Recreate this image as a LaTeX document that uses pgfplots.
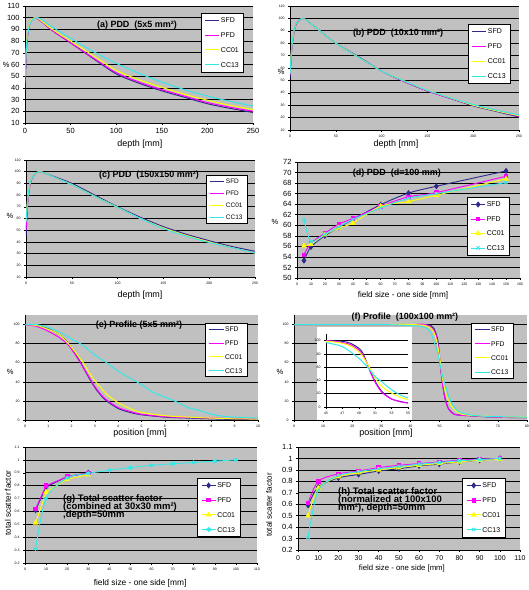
\documentclass[border=0pt]{standalone}
\usepackage{fontspec}
\setmainfont{Liberation Sans}
\usepackage{pgfplots}
\pgfplotsset{compat=1.18}
\definecolor{plotgrey}{HTML}{C0C0C0}
\definecolor{sfd}{HTML}{2E2A8C}
\definecolor{pfd}{HTML}{FF00FF}
\definecolor{cc01}{HTML}{FFFF00}
\definecolor{cc13}{HTML}{33E8E8}
\newcommand{\fs}[1]{\fontsize{#1}{#1}\selectfont}
\pgfplotsset{
  legend image code/.code={\draw[mark repeat=2,mark phase=2,#1] plot coordinates {(0bp,0bp) (7bp,0bp) (14bp,0bp)};},
  excel/.style={
    scale only axis,
    axis background/.style={fill=plotgrey},
    ymajorgrids, grid style={black, line width=0.6bp},
    axis x line*=bottom, axis y line*=left,
    axis line style={black, line width=0.6bp, -},
    tick align=outside, major tick length=2bp,
    tick style={black, line width=0.5bp},
    clip mode=individual,
    /pgf/number format/assume math mode=true,
    legend cell align=left,
    legend style={draw=black, fill=white, line width=0.5bp, anchor=north west,
      inner xsep=3.5bp, inner ysep=3.5bp,
      nodes={inner sep=1.2bp, text height=5bp, text depth=0bp}},
  },
  sfdl/.style={color=sfd, line width=1bp, smooth, no markers},
  pfdl/.style={color=pfd, line width=1bp, smooth, no markers},
  cc01l/.style={color=cc01, line width=1bp, smooth, no markers},
  cc13l/.style={color=cc13, line width=1bp, smooth, no markers},
  sfdm/.style={color=sfd, line width=0.9bp, mark=diamond*, mark size=2.4bp, mark options={fill=sfd}},
  pfdm/.style={color=pfd, line width=0.9bp, mark=square*, mark size=1.8bp, mark options={fill=pfd}},
  cc01m/.style={color=cc01, line width=0.9bp, mark=triangle*, mark size=2.4bp, mark options={fill=cc01}},
  cc13m/.style={color=cc13, line width=0.9bp, mark=x, mark size=2.3bp},
}
\begin{document}
\begin{tikzpicture}
\useasboundingbox (0,0) rectangle (529bp,590bp);

% ---------------- (a)
\begin{axis}[excel, at={(25bp,467bp)}, anchor=south west, width=228bp, height=117bp,
  xmin=0, xmax=250, ymin=10, ymax=110, xtick={0,50,...,250}, ytick={10,20,...,110},
  tick label style={font=\fs{7.5}},
  legend style={at={(0.772,0.94)}, font=\fs{7}, row sep=7.3bp}]
\addplot[sfdl] coordinates {(0,38) (2,78) (5,94) (8,98.5) (12,100) (20,95.5) (30,89) (50,78.5) (75,65) (100,52) (125,44) (150,37.5) (175,32) (200,26.5) (225,22.5) (250,19)};
\addplot[pfdl] coordinates {(0,45) (2,80) (5,95) (8,99) (12,100) (20,95.5) (30,89) (50,78.5) (75,65.5) (100,53) (125,45) (150,38.5) (175,33) (200,27.5) (225,23.5) (250,20)};
\addplot[cc01l] coordinates {(0,50) (2,82) (5,95) (8,99) (13,100) (20,96) (30,90) (50,80) (75,67.5) (100,55) (125,47) (150,40.5) (175,34.5) (200,29.5) (225,25) (250,21.5)};
\addplot[cc13l] coordinates {(0,50) (2,80) (5,94) (9,99) (14,100) (20,97.5) (30,92) (50,82.5) (75,71) (100,61) (125,52.5) (150,45) (175,38.5) (200,33) (225,28.5) (250,24.5)};
\legend{SFD,PFD,CC01,CC13}
\node[font=\bfseries\fs{9}] at (rel axis cs:0.491,0.838) {(a) PDD\ \ (5x5 mm²)};
\node[font=\fs{7.5}] at (rel axis cs:-0.083,0.5) {\%};
\node[font=\fs{9}] at (rel axis cs:0.504,-0.179) {depth [mm]};
\end{axis}

% ---------------- (b)
\begin{axis}[excel, at={(290bp,460bp)}, anchor=south west, width=229bp, height=124bp,
  xmin=0, xmax=250, ymin=10, ymax=110, xtick={0,50,...,250}, ytick={10,20,...,110},
  tick label style={font=\fs{3.5}},
  legend style={at={(0.777,0.855)}, font=\fs{7}, row sep=7.6bp}]
\addplot[sfdl] coordinates {(0,52) (2,76) (5,91) (8,97) (14,100) (20,97.5) (30,91.5) (50,80) (75,69) (100,57.5) (125,49) (150,41.5) (175,35.5) (200,29.5) (225,25) (250,20.5)};
\addplot[pfdl] coordinates {(0,54) (2,77) (5,92) (8,97.5) (14,100) (20,97.5) (30,91.5) (50,80) (75,68.5) (100,57.5) (125,49) (150,41.5) (175,35.5) (200,30) (225,25.5) (250,21)};
\addplot[cc01l] coordinates {(0,56) (2,78) (5,92) (8,97.5) (14,100) (20,97.5) (30,91.5) (50,80) (75,68.5) (100,57.5) (125,49.5) (150,42) (175,36) (200,30) (225,25.5) (250,21.5)};
\addplot[cc13l] coordinates {(0,55) (2,78) (5,92) (8,97.5) (14,100) (20,97.5) (30,91.5) (50,80) (75,68.5) (100,57.5) (125,49.5) (150,42) (175,36) (200,30.5) (225,26) (250,22)};
\legend{SFD,PFD,CC01,CC13}
\node[font=\bfseries\fs{9}] at (rel axis cs:0.472,0.782) {(b) PDD\ \ (10x10 mm²)};
\node[font=\fs{7.5}] at (rel axis cs:-0.039,0.468) {\%};
\node[font=\fs{9}] at (rel axis cs:0.463,-0.113) {depth [mm]};
\end{axis}

% ---------------- (c)
\begin{axis}[excel, at={(26bp,313bp)}, anchor=south west, width=229bp, height=117bp,
  xmin=0, xmax=250, ymin=10, ymax=110, xtick={0,50,...,250}, ytick={10,20,...,110},
  tick label style={font=\fs{3.5}},
  legend style={at={(0.786,0.872)}, font=\fs{6.5}, row sep=4.6bp, inner ysep=2.3bp}]
\addplot[sfdl] coordinates {(0,45) (2,75) (5,91) (10,98.5) (15,100) (20,99) (30,96) (50,90) (75,80) (100,70) (125,61) (150,53) (175,46.5) (200,41) (225,36) (250,32)};
\addplot[pfdl] coordinates {(0,50) (2,76) (5,91) (10,98.5) (15,100) (20,99) (30,95.5) (50,89) (75,79) (100,69.5) (125,60) (150,52) (175,45.5) (200,40) (225,35) (250,30.5)};
\addplot[cc01l] coordinates {(0,58) (2,78) (5,92) (10,98.5) (15,100) (20,99) (30,95.5) (50,89) (75,79) (100,69.5) (125,60) (150,52) (175,45.5) (200,40) (225,35) (250,30.5)};
\addplot[cc13l] coordinates {(0,57) (2,78) (5,92) (10,98.5) (15,100) (20,99) (30,95.5) (50,89) (75,79) (100,69.5) (125,60) (150,51.5) (175,45) (200,39.5) (225,35) (250,30.5)};
\legend{SFD,PFD,CC01,CC13}
\node[font=\bfseries\fs{9}] at (rel axis cs:0.537,0.872) {(c) PDD\ \ (150x150 mm²)};
\node[font=\fs{7.5}] at (rel axis cs:-0.07,0.521) {\%};
\node[font=\fs{9}] at (rel axis cs:0.498,-0.154) {depth [mm]};
\end{axis}

% ---------------- (d)
\begin{axis}[excel, at={(297bp,312bp)}, anchor=south west, width=223bp, height=116bp,
  xmin=0, xmax=160, ymin=50, ymax=72, xtick={0,10,...,160}, ytick={50,52,...,72},
  xticklabel style={font=\fs{3.5}}, yticklabel style={font=\fs{7.5}},
  legend style={at={(0.762,0.698)}, font=\fs{7}, row sep=7.1bp}]
\addplot[sfdm, smooth] coordinates {(5,53.3) (10,55.9) (20,58) (30,59.6) (40,61.1) (60,63.9) (80,66.1) (100,67.4) (150,70.3)};
\addplot[pfdm, smooth] coordinates {(5,54.4) (10,56.6) (20,58.5) (30,60.2) (40,61.3) (60,63.6) (80,65.4) (100,66.2) (150,69.3)};
\addplot[cc01m, smooth] coordinates {(5,56.1) (10,56.4) (20,58.2) (30,59.5) (40,60.4) (60,63.6) (80,64.5) (100,65.7) (150,68.8)};
\addplot[cc13m, smooth] coordinates {(5,61.1) (10,56.9) (20,58.3) (30,59.7) (40,61.1) (60,63.3) (80,65.1) (100,66) (150,68.1)};
\legend{SFD,PFD,CC01,CC13}
\node[font=\bfseries\fs{9}] at (rel axis cs:0.448,0.905) {(d) PDD\ \ (d=100 mm)};
\node[font=\fs{7.5}] at (rel axis cs:-0.099,0.483) {\%};
\node[font=\fs{8.2}] at (rel axis cs:0.475,-0.147) {field size - one side [mm]};
\end{axis}

% ---------------- (e)
\begin{axis}[excel, at={(25bp,170bp)}, anchor=south west, width=233bp, height=105bp,
  xmin=0, xmax=10, ymin=0, ymax=110, xtick={0,1,...,10}, ytick={0,20,...,100},
  tick label style={font=\fs{3.5}},
  legend style={at={(0.773,0.924)}, font=\fs{6.8}, row sep=6.3bp, inner ysep=2.5bp}]
\addplot[sfdl] coordinates {(0,100) (0.5,99) (1,95.5) (1.5,89) (1.8,82) (2,75) (2.25,66) (2.5,55) (2.75,44) (3,34) (3.25,26) (3.5,20) (4,12) (4.5,8) (5,5.5) (6,3) (7,2) (8,1.2) (9,0.5) (10,0.3)};
\addplot[pfdl] coordinates {(0,100) (0.5,98) (1,93) (1.5,86) (1.8,80) (2,74) (2.25,65) (2.5,55) (2.75,45) (3,35) (3.25,27) (3.5,21) (4,13) (4.5,9) (5,6) (6,3.5) (7,2.5) (8,2) (9,1.5) (10,1)};
\addplot[cc01l] coordinates {(0,100) (0.5,99) (1,95) (1.5,89) (2,76) (2.25,68) (2.5,60) (2.75,50) (3,41) (3.25,34) (3.5,27) (4,18) (4.5,12) (5,8) (6,4.5) (7,3) (8,2) (9,1.2) (10,1)};
\addplot[cc13l] coordinates {(0,100) (0.5,100) (1,97) (1.5,92) (2,85) (2.5,78) (3,68) (3.5,60) (4,51) (4.5,44) (5,37) (5.5,29) (6,24) (6.5,19) (7,13) (7.5,10) (8,6) (8.5,4) (9,3) (10,2)};
\legend{SFD,PFD,CC01,CC13}
\node[font=\bfseries\fs{9}] at (rel axis cs:0.489,0.905) {(e) Profile (5x5 mm²)};
\node[font=\fs{7.5}] at (rel axis cs:-0.064,0.457) {\%};
\node[font=\fs{9}] at (rel axis cs:0.494,-0.124) {position [mm]};
\end{axis}

% ---------------- (f)
\begin{axis}[excel, at={(294bp,170bp)}, anchor=south west, width=233bp, height=105bp,
  xmin=0, xmax=80, ymin=0, ymax=110, xtick={0,10,...,80}, ytick={0,20,...,100},
  tick label style={font=\fs{3.5}},
  legend style={at={(0.760,0.924)}, font=\fs{6.8}, row sep=6.8bp, inner ysep=2.5bp}]
\addplot[sfdl] coordinates {(0,100) (10,100) (20,100) (30,100) (40,100) (45,100) (47,99) (48,96) (49,88.5) (49.5,81) (50,66) (50.5,51) (51,38.5) (51.5,28.5) (52,21) (53,12) (54,8.5) (55,6) (57,5) (60,4.5) (65,3.5) (70,3) (75,2.5) (80,2.5)};
\addplot[pfdl] coordinates {(0,100) (10,100) (20,100) (30,100) (40,100) (45,100) (47,97) (48,94) (49,86) (50,66) (50.5,50) (51,37) (52,20) (53,12) (54,8) (55,6) (57,5) (60,4.5) (70,3) (80,2.5)};
\addplot[cc01l] coordinates {(0,100) (10,100) (20,100) (30,100) (40,100) (45,99) (47,96) (48,92) (49,83) (50,66) (50.5,55) (51,43) (52,29) (53,21) (54,15) (55,11) (57,7) (60,5) (70,3.5) (80,3)};
\addplot[cc13l] coordinates {(0,100) (10,100) (20,100) (30,100) (40,99) (45,97) (47,91) (48,83) (49,73.5) (50,61) (51,46) (52,36) (53,26) (54,18.5) (55,13.5) (56,10) (57,8) (60,5.5) (65,4) (70,3.5) (80,3)};
\legend{SFD,PFD,CC01,CC13}
\node[font=\bfseries\fs{9}] at (rel axis cs:0.476,0.981) {(f) Profile\ \ (100x100 mm²)};
\node[font=\fs{7.5}] at (rel axis cs:-0.06,0.457) {\%};
\node[font=\fs{9}] at (rel axis cs:0.395,-0.124) {position [mm]};
\end{axis}

% inset of (f)
\fill[white] (317bp,170bp) rectangle (412bp,263bp);
\begin{axis}[excel, at={(326bp,183bp)}, anchor=south west, width=82bp, height=73bp,
  axis background/.style={fill=white},
  xmin=45, xmax=55, ymin=0, ymax=110, xtick={45,47,...,55}, ytick={0,20,...,100},
  tick label style={font=\fs{3.5}}]
\addplot[sfdl] coordinates {(45,100) (46,99.5) (47,99) (48,96) (49,88.5) (49.5,81) (50,66) (50.5,51) (51,38.5) (51.5,28.5) (52,21) (53,12) (54,8.5) (55,6)};
\addplot[pfdl] coordinates {(45,100) (46,99) (47,97) (48,94) (49,86) (49.5,78) (50,66) (50.5,50) (51,37) (51.5,27) (52,20) (53,12) (54,8) (55,6)};
\addplot[cc01l] coordinates {(45,99) (46,98) (47,96) (48,92) (49,83) (49.5,76) (50,66) (50.5,55) (51,43) (51.5,35) (52,29) (53,21) (54,15) (55,11)};
\addplot[cc13l] coordinates {(45,97) (46,94.5) (47,91) (48,83) (49,73.5) (50,61) (51,46) (52,36) (53,26) (54,18.5) (55,13.5)};
\end{axis}

% ---------------- (g)
\begin{axis}[excel, at={(25bp,27bp)}, anchor=south west, width=232bp, height=116bp,
  xmin=0, xmax=110, ymin=0.2, ymax=1.1, xtick={0,10,...,110}, ytick={0.2,0.3,0.4,0.5,0.6,0.7,0.8,0.9,1,1.1},
  tick label style={font=\fs{3.5}},
  legend style={at={(0.741,0.733)}, font=\fs{7}, row sep=7.3bp, inner xsep=4bp}]
\addplot[sfdm] coordinates {(5,0.61) (10,0.79) (20,0.87) (30,0.90)};
\addplot[pfdm] coordinates {(5,0.62) (10,0.80) (20,0.87) (30,0.90)};
\addplot[cc01m] coordinates {(5,0.51) (10,0.75) (20,0.85) (30,0.885)};
\addplot[cc13m, mark=asterisk, smooth] coordinates {(5,0.31) (10,0.70) (20,0.86) (30,0.895) (40,0.92) (50,0.94) (60,0.958) (70,0.97) (80,0.98) (90,0.99) (100,1.0)};
\legend{SFD,PFD,CC01,CC13}
\node[font=\bfseries\fs{9.5}, align=left, anchor=north west, inner sep=0pt] at (rel axis cs:0.164,0.595) {(g) Total scatter factor\\[-1.2bp](combined at 30x30 mm²)\\[-1.2bp],depth=50mm};
\node[font=\fs{8.2}, rotate=90] at (rel axis cs:-0.073,0.517) {total scatter factor};
\node[font=\fs{8.4}] at (rel axis cs:0.496,-0.172) {field size - one side [mm]};
\end{axis}

% ---------------- (h)
\begin{axis}[excel, at={(298bp,40bp)}, anchor=south west, width=222bp, height=103bp,
  xmin=0, xmax=110, ymin=0.2, ymax=1.1, xtick={0,10,...,110}, ytick={0.2,0.3,0.4,0.5,0.6,0.7,0.8,0.9,1,1.1},
  xticklabel style={font=\fs{7}}, yticklabel style={font=\fs{7.5}},
  legend style={at={(0.739,0.699)}, font=\fs{7}, row sep=7.3bp, inner xsep=4bp}]
\addplot[sfdm, smooth] coordinates {(5,0.59) (10,0.75) (20,0.83) (30,0.86) (40,0.89) (50,0.91) (60,0.935) (70,0.95) (80,0.97) (90,0.985) (100,1.0)};
\addplot[pfdm, smooth] coordinates {(5,0.61) (10,0.80) (20,0.865) (30,0.89) (40,0.92) (50,0.94) (60,0.955) (70,0.97) (80,0.985) (90,0.995) (100,1.0)};
\addplot[cc01m, smooth] coordinates {(5,0.50) (10,0.74) (20,0.84) (30,0.875) (40,0.90) (50,0.92) (60,0.94) (70,0.955) (80,0.97) (90,0.985) (100,0.99)};
\addplot[cc13m, smooth] coordinates {(5,0.31) (10,0.72) (20,0.85) (30,0.885) (40,0.91) (50,0.93) (60,0.95) (70,0.965) (80,0.98) (90,0.99) (100,1.0)};
\legend{SFD,PFD,CC01,CC13}
\node[font=\bfseries\fs{9.5}, align=left, anchor=north west, inner sep=0pt] at (rel axis cs:0.18,0.612) {(h) Total scatter factor\\[-1.2bp](normalized at 100x100\\[-1.2bp]mm²), depth=50mm};
\node[font=\fs{8}, rotate=90] at (rel axis cs:-0.131,0.437) {total scatter factor};
\node[font=\fs{7.8}] at (rel axis cs:0.468,-0.184) {field size - one side [mm]};
\end{axis}
\end{tikzpicture}
\end{document}
